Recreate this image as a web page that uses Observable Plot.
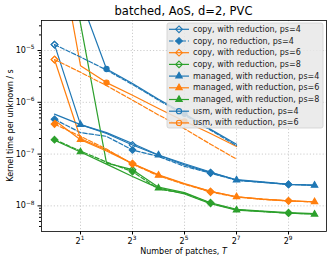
<!DOCTYPE html>
<html><head><meta charset="utf-8">
<script src="https://cdn.jsdelivr.net/npm/d3@7"></script>
<script src="https://cdn.jsdelivr.net/npm/@observablehq/plot@0.6"></script>
<style>body{margin:0;background:#fff;} svg{font-family:"DejaVu Sans",sans-serif;}</style>
</head><body><div id="chart"></div>
<script>
const xValues = [1, 2, 4, 8, 16, 32, 64, 128, 256, 512, 1024];

const copyRedPs4   = [1.3e-5, 3.7e-7, 2.5e-7, 1.5e-7, 9.5e-8, 6.2e-8, 4.4e-8, 3.2e-8, 2.9e-8, 2.6e-8, 2.5e-8];
const copyNoRedPs4 = [4.7e-7, 2.6e-7, 2.2e-7, 1.2e-7, 9.0e-8, 5.8e-8, 4.3e-8, 3.1e-8, 2.85e-8, 2.6e-8, 2.5e-8];
const copyRedPs6   = [6.7e-6, 2.0e-7, 1.2e-7, 6.6e-8, 4.0e-8, 2.7e-8, 1.9e-8, 1.5e-8, 1.35e-8, 1.25e-8, 1.2e-8];
const copyRedPs8   = [1.3e-2, 3.3e-5, 6.7e-8, 5.0e-8, 2.3e-8, 1.8e-8, 1.15e-8, 8.6e-9, 7.9e-9, 7.4e-9, 7.1e-9];
const managedPs4   = [5.9e-7, 3.7e-7, 2.6e-7, 1.6e-7, 9.6e-8, 6.5e-8, 4.5e-8, 3.15e-8, 2.85e-8, 2.6e-8, 2.5e-8];
const managedPs6   = [4.5e-7, 1.9e-7, 1.15e-7, 6.5e-8, 3.9e-8, 2.65e-8, 1.9e-8, 1.5e-8, 1.35e-8, 1.25e-8, 1.2e-8];
const managedPs8   = [1.85e-7, 1.1e-7, 6.4e-8, 3.7e-8, 2.2e-8, 1.7e-8, 1.1e-8, 8.3e-9, 7.7e-9, 7.2e-9, 6.9e-9];
const usmPs4       = [null, 1.0e-4, 4.4e-6, 2.3e-6, 1.15e-6, 6.0e-7, 3.0e-7, 1.55e-7, null, null, null];
const usmPs6       = [3.0e-3, 5.1e-6, 2.4e-6, 1.37e-6, 7.6e-7, 4.3e-7, 2.5e-7, 1.4e-7, null, null, null];
// unlabeled companion runs
const extraBlueHigh   = [1.3e-5, 7.5e-6, 4.2e-6, 2.2e-6, 1.1e-6, 5.7e-7, 2.9e-7, 1.45e-7, null, null, null];
const extraOrangeHigh = [6.7e-6, 3.8e-6, 2.1e-6, 1.1e-6, 5.7e-7, 3.1e-7, 1.55e-7, 8.0e-8, null, null, null];
const extraOrangeLow  = [3.8e-7, 2.2e-7, 1.25e-7, 6.4e-8, 3.8e-8, 2.6e-8, 1.85e-8, 1.48e-8, 1.33e-8, 1.25e-8, 1.18e-8];
const extraGreenLow   = [1.9e-7, 1.15e-7, 7.0e-8, 4.6e-8, 2.1e-8, 1.75e-8, 1.12e-8, 8.4e-9, 7.8e-9, 7.2e-9, 7.0e-9];

const xTicks = [2, 8, 32, 128, 512];
const xTickBase = "2";
const xTickExps = ["1", "3", "5", "7", "9"];
const yTicks = [1e-8, 1e-7, 1e-6, 1e-5];
const yTickBase = "10";
const yTickExps = ["−8", "−7", "−6", "−5"];

const blue = "#1f77b4", orange = "#ff7f0e", green = "#2ca02c";
const DASH = "4.4,1.9";
const markerR = {diamond2: 3, triangle: 2.4, circle: 2.6};

const series = [
  {label: "copy, with reduction, ps=4", values: copyRedPs4, color: blue, dash: null, symbol: "diamond2", open: true, offset: 0},
  {label: "copy, no reduction, ps=4", values: copyNoRedPs4, color: blue, dash: DASH, symbol: "diamond2", open: false, offset: 0},
  {label: "copy, with reduction, ps=6", values: copyRedPs6, color: orange, dash: null, symbol: "diamond2", open: true, offset: 0},
  {label: "copy, with reduction, ps=8", values: copyRedPs8, color: green, dash: null, symbol: "diamond2", open: true, offset: 0},
  {label: "managed, with reduction, ps=4", values: managedPs4, color: blue, dash: null, symbol: "triangle", open: false, offset: 1},
  {label: "managed, with reduction, ps=6", values: managedPs6, color: orange, dash: null, symbol: "triangle", open: false, offset: 1},
  {label: "managed, with reduction, ps=8", values: managedPs8, color: green, dash: null, symbol: "triangle", open: false, offset: 1},
  {label: "usm, with reduction, ps=4", values: usmPs4, color: blue, dash: null, symbol: "circle", open: true, plotFilled: true, offset: 2},
  {label: "usm, with reduction, ps=6", values: usmPs6, color: orange, dash: null, symbol: "circle", open: true, plotFilled: true, offset: 2},
  {label: null, values: extraBlueHigh, color: blue, dash: DASH, symbol: "diamond2", open: true, offset: 0, only: true},
  {label: null, values: extraOrangeHigh, color: orange, dash: DASH, symbol: "diamond2", open: true, offset: 0, only: true},
  {label: null, values: extraOrangeLow, color: orange, dash: DASH, symbol: "diamond2", open: false, offset: 0},
  {label: null, values: extraGreenLow, color: green, dash: DASH, symbol: "diamond2", open: false, offset: 0}
];

const marks = [
  Plot.gridX(xTicks, {stroke: "#b0b0b0", strokeOpacity: 0.8, strokeDasharray: "1.2,2", strokeWidth: 0.8}),
  Plot.gridY(yTicks, {stroke: "#b0b0b0", strokeOpacity: 0.8, strokeDasharray: "1.2,2", strokeWidth: 0.8})
];
for (const s of series) {
  const rows = xValues.map((x, i) => ({x, y: s.values[i], i})).filter(d => d.y != null);
  marks.push(Plot.line(rows, {x: "x", y: "y", stroke: s.color, strokeWidth: 1.2, strokeDasharray: s.dash, clip: true}));
  const mrows = rows.filter(d => d.i >= s.offset && (s.only ? d.i === s.offset : (d.i - s.offset) % 3 === 0));
  const filled = !s.open || s.plotFilled;
  marks.push(Plot.dot(mrows, {x: "x", y: "y", symbol: s.symbol, r: markerR[s.symbol],
    fill: filled ? s.color : "none", stroke: s.color, strokeWidth: 1.1, clip: true}));
}
const yMinor = [];
for (let e = -9; e <= -5; e++) for (let m = 2; m <= 9; m++) { const v = m * 10 ** e; if (v >= 3.2e-9 && v <= 3.8e-5) yMinor.push(v); }
marks.push(
  Plot.axisX(xTicks, {tickFormat: () => "", tickSize: 3.5, label: null}),
  Plot.axisY(yTicks, {tickFormat: () => "", tickSize: 3.5, label: null}),
  Plot.axisY(yMinor, {tickFormat: () => "", tickSize: 2, label: null}),
  Plot.frame({stroke: "black", strokeWidth: 0.8})
);

const chart = Plot.plot({
  width: 332, height: 263,
  marginLeft: 41, marginRight: 6, marginTop: 20, marginBottom: 32,
  style: {fontFamily: "DejaVu Sans", fontSize: "8px", background: "white", color: "black", overflow: "visible"},
  x: {type: "log", base: 2, domain: [2 ** -0.5, 2 ** 10.46]},
  y: {type: "log", domain: [3.2e-9, 3.8e-5]},
  marks
});
document.getElementById("chart").appendChild(chart);

const svg = d3.select(chart);
const xs = chart.scale("x"), ys = chart.scale("y");

// tick labels with raised exponents, placed by the plot's scales
const tl = svg.append("g").attr("fill", "black").attr("font-size", 8);
xTicks.forEach((v, i) => {
  const t = tl.append("text").attr("x", xs.apply(v)).attr("y", 243.5).attr("text-anchor", "middle");
  t.append("tspan").text(xTickBase);
  t.append("tspan").attr("font-size", 5.8).attr("dy", -3.6).text(xTickExps[i]);
});
yTicks.forEach((v, i) => {
  const t = tl.append("text").attr("x", 34.5).attr("y", ys.apply(v) + 3).attr("text-anchor", "end");
  t.append("tspan").text(yTickBase);
  t.append("tspan").attr("font-size", 5.8).attr("dy", -3.6).text(yTickExps[i]);
});

svg.append("text").attr("x", 183.5).attr("y", 14.5).attr("text-anchor", "middle")
  .attr("font-size", 11.5).attr("fill", "black").text("batched, AoS, d=2, PVC");
const xl = svg.append("text").attr("x", 183.5).attr("y", 254).attr("text-anchor", "middle")
  .attr("font-size", 8).attr("fill", "black");
xl.append("tspan").text("Number of patches, ");
xl.append("tspan").attr("font-style", "italic").text("T");
svg.append("text").attr("transform", "translate(12.5,125.5) rotate(-90)").attr("text-anchor", "middle")
  .attr("font-size", 8).attr("fill", "black").text("Kernel time per unknown / s");

// legend
const lg = svg.append("g");
lg.append("rect").attr("x", 167).attr("y", 23).attr("width", 156).attr("height", 105).attr("rx", 2)
  .attr("fill", "#e8e8e8").attr("fill-opacity", 0.85).attr("stroke", "#cfcfcf").attr("stroke-width", 0.8);
const symType = {diamond2: d3.symbolDiamond2, triangle: d3.symbolTriangle, circle: d3.symbolCircle};
series.filter(s => s.label).forEach((s, i) => {
  const y = 29.3 + i * 11.7;
  lg.append("line").attr("x1", 169).attr("x2", 189).attr("y1", y).attr("y2", y)
    .attr("stroke", s.color).attr("stroke-width", 1.2).attr("stroke-dasharray", s.dash);
  const r = markerR[s.symbol];
  lg.append("path").attr("transform", `translate(179,${y})`)
    .attr("d", d3.symbol(symType[s.symbol], Math.PI * r * r)())
    .attr("fill", s.open ? "none" : s.color).attr("stroke", s.color).attr("stroke-width", 1.1);
  lg.append("text").attr("x", 193).attr("y", y).attr("dy", "0.32em").attr("font-size", 8)
    .attr("text-anchor", "start").attr("fill", "#222").text(s.label);
});
</script></body></html>
